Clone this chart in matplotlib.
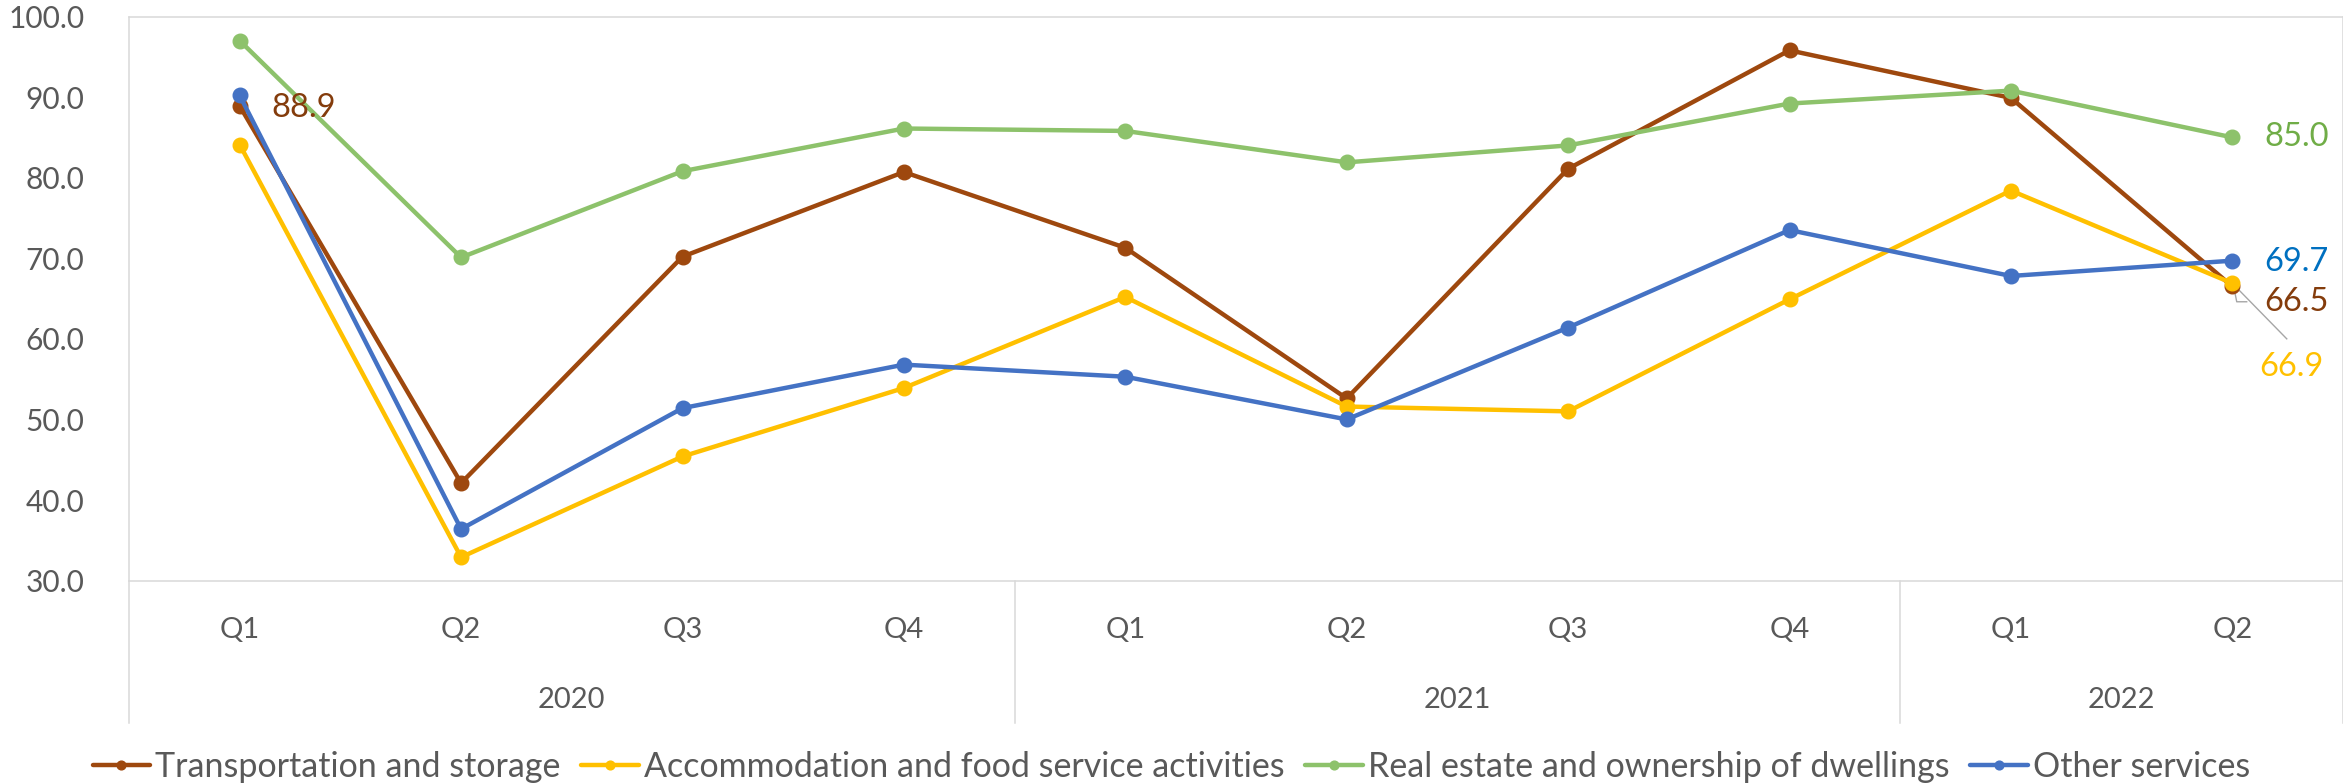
import matplotlib
matplotlib.use("Agg")
import matplotlib.pyplot as plt
from matplotlib.lines import Line2D
from matplotlib.transforms import blended_transform_factory

# Quarterly indices by service sector
quarters = ["Q1", "Q2", "Q3", "Q4", "Q1", "Q2", "Q3", "Q4", "Q1", "Q2"]
years = ["2020", "2021", "2022"]
year_spans = [(0, 3), (4, 7), (8, 9)]

transport = [88.9, 42.1, 70.2, 80.7, 71.3, 52.6, 81.1, 95.8, 89.9, 66.5]
accommodation = [84.1, 32.9, 45.4, 53.9, 65.2, 51.6, 51.0, 64.9, 78.4, 66.9]
real_estate = [97.0, 70.1, 80.8, 86.1, 85.8, 81.9, 84.0, 89.2, 90.8, 85.0]
other_services = [90.2, 36.4, 51.4, 56.8, 55.3, 50.0, 61.4, 73.5, 67.8, 69.7]

series = [
    ("Transportation and storage", transport, "#9E480E"),
    ("Accommodation and food service activities", accommodation, "#FFC000"),
    ("Real estate and ownership of dwellings", real_estate, "#8DC26B"),
    ("Other services", other_services, "#4472C4"),
]

W, H = 2343, 784
FONT = "Lato"
TXT = "#595959"
GRID = "#D9D9D9"

fig = plt.figure(figsize=(W / 100, H / 100), dpi=100)
left_px, right_px, top_px, bottom_px = 129, 2343, 16.5, 580.6
ax = fig.add_axes([left_px / W, 1 - bottom_px / H,
                   (right_px - left_px) / W, (bottom_px - top_px) / H])

x = list(range(len(quarters)))
for name, vals, col in series:
    ax.plot(x, vals, color=col, lw=3.2, marker="o", ms=10.5,
            solid_capstyle="round", label=name, clip_on=False)

ax.set_xlim(-0.5, len(quarters) - 0.5)
ax.set_ylim(30, 100)
ax.set_yticks(range(30, 101, 10))
ax.set_yticklabels([f"{v:.1f}" for v in range(30, 101, 10)],
                   fontsize=21.5, color=TXT, family=FONT)
ax.tick_params(axis="y", length=0, pad=32)
ax.set_xticks([])
for s in ax.spines.values():
    s.set_color(GRID)
    s.set_linewidth(1.1)

# Two-level category axis: quarters and years
tr = blended_transform_factory(ax.transData, fig.transFigure)
for i, q in enumerate(quarters):
    ax.text(i, 1 - 630 / H, q, transform=tr, ha="center", va="center",
            fontsize=21, color=TXT, family=FONT)
for yr, (a, b) in zip(years, year_spans):
    ax.text((a + b) / 2, 1 - 700 / H, yr, transform=tr, ha="center",
            va="center", fontsize=21, color=TXT, family=FONT)
for sep in [-0.5, 3.5, 7.5, 9.5]:
    ax.add_line(Line2D([sep, sep], [1 - bottom_px / H, 1 - 723.3 / H],
                       transform=tr, color=GRID, lw=1.1, clip_on=False))

# Data labels
lab = dict(fontsize=23.5, family=FONT, va="center", ha="left",
           textcoords="offset pixels", annotation_clip=False)
ax.annotate(f"{transport[0]:.1f}", (0, transport[0]), xytext=(32, -2),
            color="#843C0C", **lab)
ax.annotate(f"{real_estate[-1]:.1f}", (9, real_estate[-1]), xytext=(32, 0),
            color="#70AD47", **lab)
ax.annotate(f"{other_services[-1]:.1f}", (9, other_services[-1]),
            xytext=(32, -1), color="#0070C0", **lab)
ax.annotate(f"{transport[-1]:.1f}", (9, transport[-1]), xytext=(32, -16),
            color="#843C0C", **lab)
ax.annotate(f"{accommodation[-1]:.1f}", (9, accommodation[-1]),
            xytext=(27, -84), color="#FFC000", **lab)

# Leader line for the accommodation label
ax.plot([9.246, 9.0], [60.0, accommodation[-1]], color="#A6A6A6", lw=1.0,
        clip_on=False, zorder=1)
ax.plot([9.01, 9.02, 9.065], [66.0, 64.6, 64.6], color="#A6A6A6", lw=1.0,
        clip_on=False, zorder=1)

leg = fig.legend(loc="center", bbox_to_anchor=(0.5, 1 - 767 / H),
                 ncol=4, frameon=False, handlelength=1.7, handletextpad=0.15,
                 columnspacing=0.6, markerscale=0.6,
                 prop={"family": FONT, "size": 24.5})
for t in leg.get_texts():
    t.set_color(TXT)

fig.savefig("out.png", dpi=100)
